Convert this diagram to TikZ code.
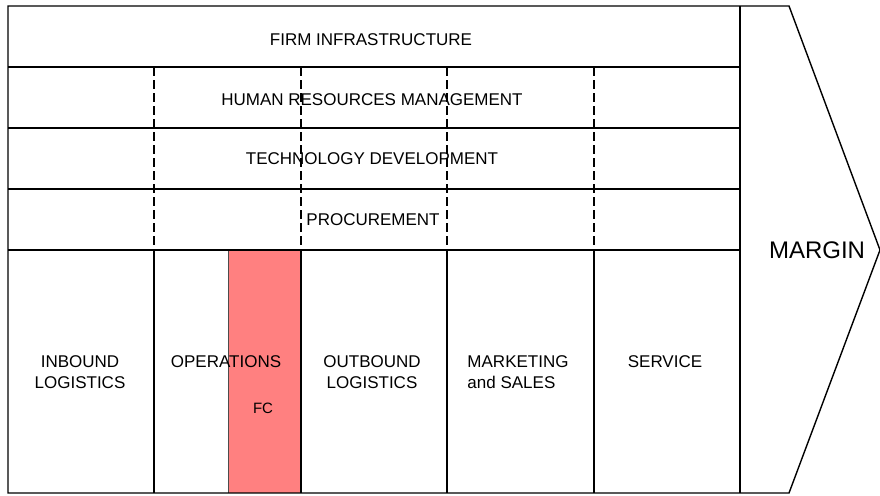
\documentclass[tikz,border=0pt]{standalone}
\usepackage{fontspec}
\setmainfont{Liberation Sans}
\definecolor{fcred}{RGB}{255,128,128}
\tikzset{
  frame/.style={line width=1.4pt, black},
  divider/.style={line width=1.3pt, black},
  dashdiv/.style={line width=1.3pt, black, dash pattern=on 9pt off 4pt},
  lbl/.style={font=\fontsize{17}{21}\selectfont, inner sep=0pt, align=center},
  biglbl/.style={font=\fontsize{24}{28}\selectfont, inner sep=0pt}
}
\begin{document}
\begin{tikzpicture}[x=1pt,y=-1pt]
\useasboundingbox (0,0) rectangle (880,495);
\fill[white] (0,0) rectangle (880,495);
% FC highlight
\fill[fcred] (228,250) rectangle (301,493);
\draw[line width=0.6pt, black!70] (228,250) -- (228,493);
% outer frame with margin arrow
\draw[frame, line join=miter] (8,6) -- (789,6) -- (880,250) -- (789,493) -- (8,493) -- cycle;
\draw[frame] (740,6) -- (740,493);
% support activity rows
\foreach \y in {67,128,189,250} \draw[divider] (8,\y) -- (740,\y);
% dashed column lines in support rows
\foreach \x in {154,301,447,594} \draw[dashdiv] (\x,67) -- (\x,250);
% primary activity columns
\foreach \x in {154,301,447,594} \draw[divider] (\x,250) -- (\x,493);
% labels
\node[lbl] (firm) at (371,40) {FIRM INFRASTRUCTURE};
\node[lbl] (hrm) at (372,100) {HUMAN RESOURCES MANAGEMENT};
\node[lbl] (tech) at (372,159) {TECHNOLOGY DEVELOPMENT};
\node[lbl] (proc) at (373,220) {PROCUREMENT};
\node[lbl] (inb) at (80,372) {INBOUND\\LOGISTICS};
\node[lbl] (ops) at (226,362) {OPERATIONS};
\node[lbl] (outb) at (372,372) {OUTBOUND\\LOGISTICS};
\node[lbl, align=left] (mkt) at (518,372) {MARKETING\\and SALES};
\node[lbl] (serv) at (665,362) {SERVICE};
\node[lbl, font=\fontsize{15}{17}\selectfont] (fc) at (263,408) {FC};
\node[biglbl] (margin) at (817,250) {MARGIN};
\end{tikzpicture}
\end{document}
